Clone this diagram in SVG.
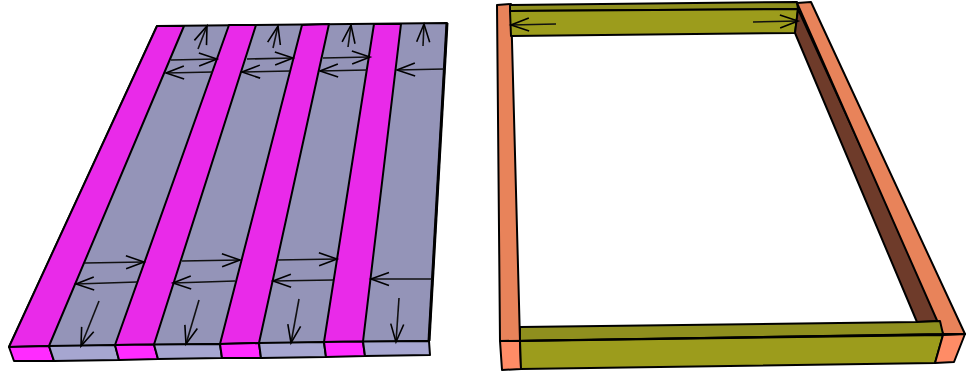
<svg xmlns="http://www.w3.org/2000/svg" width="974" height="371" viewBox="0 0 974 371">
<defs>
<marker id="ah" markerUnits="userSpaceOnUse" markerWidth="22" markerHeight="20" refX="20" refY="10" orient="auto" overflow="visible"><path d="M2 3.5L20 10L2 16.5" fill="none" stroke="#000" stroke-width="1.6"/></marker>
</defs>
<style>
.e{stroke:#000;stroke-width:2;stroke-linejoin:round}
.m{fill:#e92ae9}.g{fill:#9494b8}.fm{fill:#ff2bff}.fg{fill:#a6a6d0}
.o{fill:#e8835a}.fo{fill:#ff8c66}.ol{fill:#9c9c1c}.old{fill:#8f8f1e}.b{fill:#6e3b2a}
.a{fill:none;stroke:#111;stroke-width:1.6;marker-end:url(#ah)}
</style>
<g id="panel-floor">
<polygon class="g e" points="157,26 447,23 429,341 9,347"/>
<polygon class="m e" points="157,26 184,26 49,346 9,347"/>
<polygon class="m e" points="229,25 256,25 154,344.500 115,345"/>
<polygon class="m e" points="302,25 329,24 259,343 220,344"/>
<polygon class="m e" points="374,24 401,24 363,341.500 324,342"/>
<polygon class="fm e" points="9,347 49,346 54,361 14,361"/>
<polygon class="fg e" points="49,346 115,345 119,360 54,361"/>
<polygon class="fm e" points="115,345 154,344.500 158,359 119,360"/>
<polygon class="fg e" points="154,344.500 220,344 222,358 158,359"/>
<polygon class="fm e" points="220,344 259,343 261,358 222,358"/>
<polygon class="fg e" points="259,343 324,342 326,357 261,358"/>
<polygon class="fm e" points="324,342 363,341.500 365,356 326,357"/>
<polygon class="fg e" points="363,341.500 429,341 430,355 365,356"/>
<line x1="447" y1="23" x2="429" y2="341" stroke="#000" stroke-width="3"/>
</g>
<g id="panel-frame">
<polygon class="o e" points="497,5 511,4 520,341 500,341"/>
<polygon class="fo e" points="500,341 520,341 521,369 502,370"/>
<polygon class="old e" points="510,5 797,2 798,9 510,11"/>
<polygon class="ol e" points="510,11 798,9 795,33 511,36"/>
<polygon class="b e" points="798,9 795,33 917,322 940,321"/>
<polygon class="o e" points="797,3 811,2 965,334 943,334"/>
<polygon class="old e" points="520,327 917,322 940,321 943,334 520,341"/>
<polygon class="ol e" points="520,341 943,335 935,363 521,369"/>
<polygon class="fo e" points="943,335 965,334 954,362 935,363"/>
<line x1="500" y1="341" x2="966" y2="334" stroke="#000" stroke-width="2"/>
</g>
<g id="connectors">
<path class="a" d="M171 60L217 59"/><path class="a" d="M213 72L166 73"/>
<path class="a" d="M247 59L293 58"/><path class="a" d="M290 71L242 72"/>
<path class="a" d="M323 58L370 57"/><path class="a" d="M367 70L320 71"/>
<path class="a" d="M444 69L397 70"/>
<path class="a" d="M198 49L207 26"/><path class="a" d="M273 48L278 26"/><path class="a" d="M348 47L351 25"/><path class="a" d="M423 46L424 24"/>
<path class="a" d="M85 263L144 262"/><path class="a" d="M137 282L76 284"/>
<path class="a" d="M182 261L240 260"/><path class="a" d="M235 281L173 283"/>
<path class="a" d="M277 260L337 259"/><path class="a" d="M333 280L273 281"/>
<path class="a" d="M432 279L371 279"/>
<path class="a" d="M99 301L81 346"/><path class="a" d="M199 300L186 344"/><path class="a" d="M299 299L291 343"/><path class="a" d="M399 298L396 342"/>
<path class="a" d="M556 24L511 25"/><path class="a" d="M753 22L798 21"/>
</g>
</svg>
